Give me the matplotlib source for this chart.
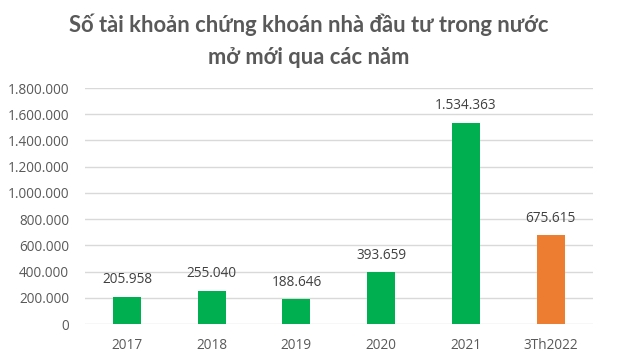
import matplotlib
matplotlib.use("Agg")
import matplotlib.pyplot as plt
from matplotlib.ticker import FuncFormatter

categories = ["2017", "2018", "2019", "2020", "2021", "3Th2022"]
values = [205958, 255040, 188646, 393659, 1534363, 675615]
colors = ["#00B050", "#00B050", "#00B050", "#00B050", "#00B050", "#ED7D31"]
yticks = [0, 200000, 400000, 600000, 800000, 1000000, 1200000, 1400000, 1600000, 1800000]

def fmt(v):
    return f"{int(v):,}".replace(",", ".")

plt.rcParams['font.family'] = ['Open Sans', 'DejaVu Sans']

fig = plt.figure(figsize=(6.19, 3.62), dpi=100)
ax = fig.add_axes([84.6/619, 1 - 324/362, (593-84.6)/619, (324-88)/362])

x = list(range(len(categories)))
ax.bar(x, values, width=0.33, color=colors, zorder=3)
ax.set_xlim(-0.5, len(categories) - 0.5)
ax.set_ylim(0, 1800000)
ax.set_yticks(yticks)
ax.yaxis.set_major_formatter(FuncFormatter(lambda v, p: fmt(v)))
ax.set_xticks(x)
ax.set_xticklabels(categories)
ax.grid(axis="y", color="#D9D9D9", linewidth=1, zorder=0)
for s in ax.spines.values():
    s.set_visible(False)
ax.tick_params(axis="both", length=0, labelsize=9.8, colors="#595959")
ax.tick_params(axis="x", pad=10)
ax.tick_params(axis="y", pad=11)

for xi, v in zip(x, values):
    ax.annotate(fmt(v), (xi, v), xytext=(0, 7), textcoords="offset points",
                ha="center", va="bottom", fontsize=9.8, color="#404040")

fig.text(309/619, 1 - 25/362, "Số tài khoản chứng khoán nhà đầu tư trong nước",
         ha="center", va="center", fontsize=15.8, fontweight="bold", color="#595959",
         family="Lato")
fig.text(309/619, 1 - 57/362, "mở mới qua các năm",
         ha="center", va="center", fontsize=15.8, fontweight="bold", color="#595959",
         family="Lato")

fig.savefig("out.png", dpi=100, facecolor="white")
